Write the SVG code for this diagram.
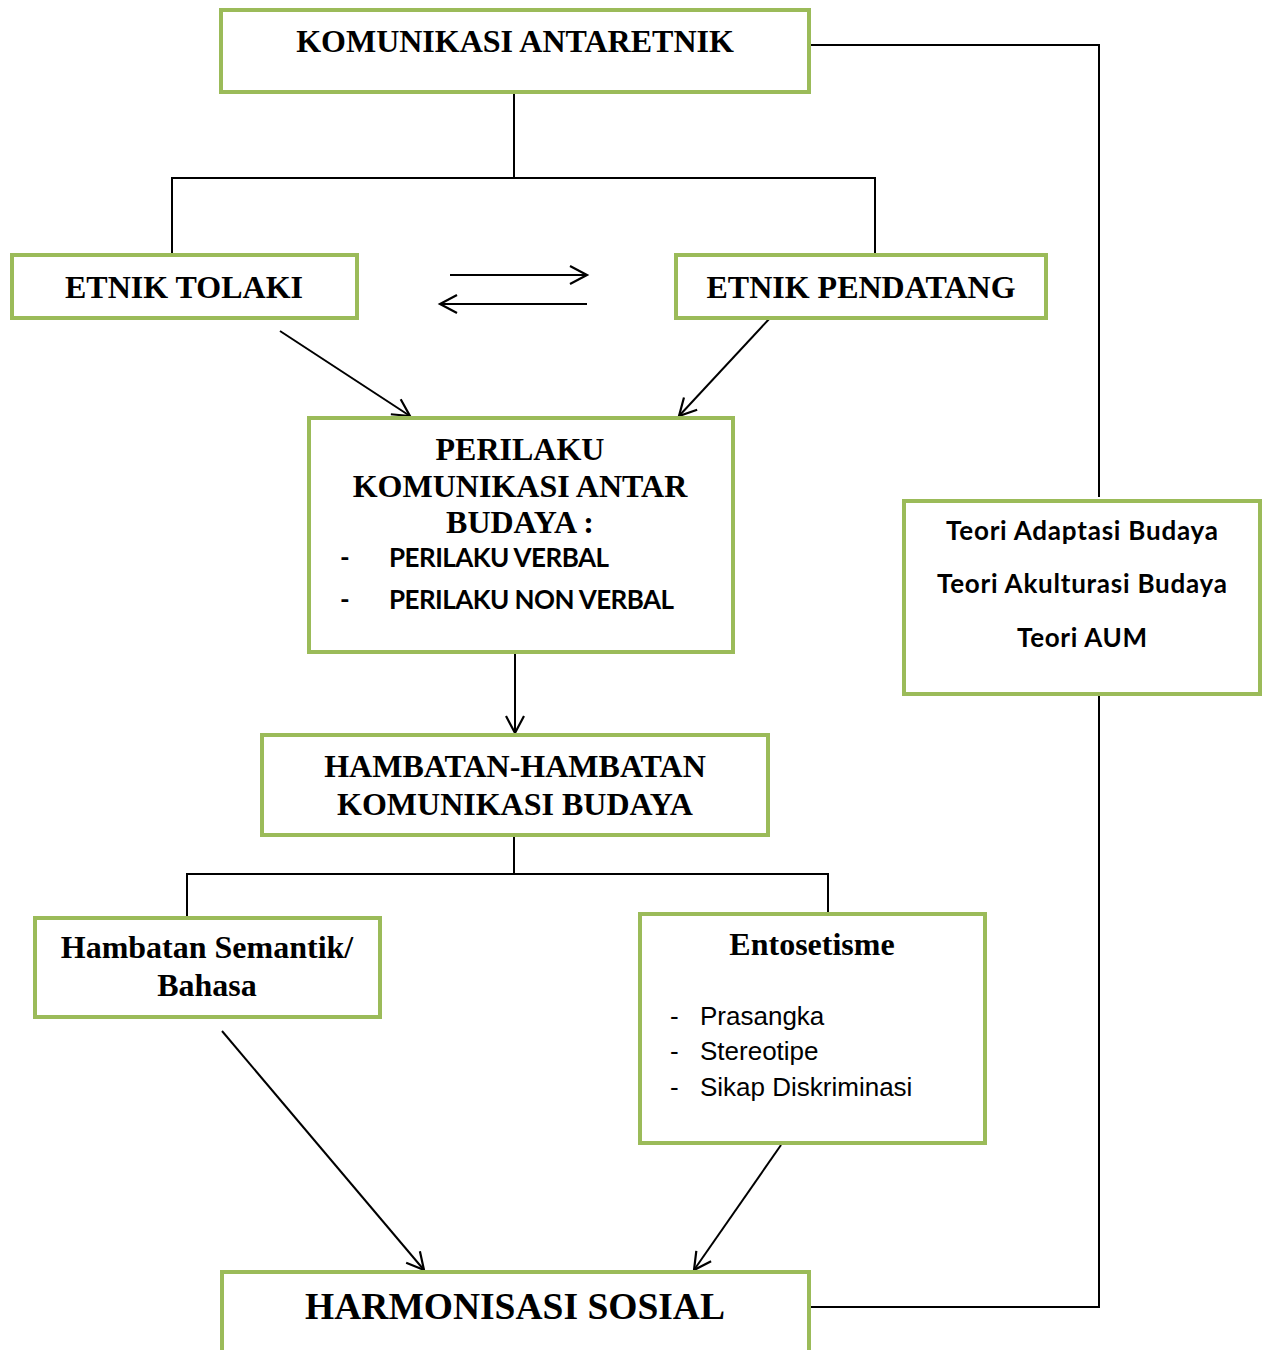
<svg xmlns="http://www.w3.org/2000/svg" width="1268" height="1350" viewBox="0 0 1268 1350">
<style>
.box{fill:#fff;stroke:#9BBB59;stroke-width:4}
.ln{fill:none;stroke:#000;stroke-width:2}
.t{font-family:"Liberation Serif","Times New Roman",serif;font-weight:bold;font-size:32px;text-anchor:middle;fill:#000}
.c{font-family:Lato,"Open Sans",sans-serif;font-weight:bold;font-size:26px;fill:#000}
.a{font-family:"Liberation Sans",Arial,sans-serif;font-size:26px;fill:#000}
</style>
<defs>
<marker id="ah" markerUnits="userSpaceOnUse" markerWidth="24" markerHeight="24" viewBox="-20 -12 24 24" refX="0" refY="0" orient="auto">
<path d="M-17,-9 L0,0 L-17,9" fill="none" stroke="#000" stroke-width="2.2"/>
</marker>
</defs>
<rect width="1268" height="1350" fill="#fff"/>
<g id="connectors">
<polyline class="ln" points="809,45 1099,45 1099,497"/>
<polyline class="ln" points="1099,694 1099,1307 809,1307"/>
<line class="ln" x1="514" y1="92" x2="514" y2="178"/>
<polyline class="ln" points="172,254 172,178 875,178 875,254"/>
<line class="ln" x1="450" y1="275" x2="587" y2="275" marker-end="url(#ah)"/>
<line class="ln" x1="587" y1="304" x2="440" y2="304" marker-end="url(#ah)"/>
<line class="ln" x1="280" y1="331" x2="410" y2="416" marker-end="url(#ah)"/>
<line class="ln" x1="770" y1="318" x2="679" y2="416" marker-end="url(#ah)"/>
<line class="ln" x1="515" y1="652" x2="515" y2="733" marker-end="url(#ah)"/>
<line class="ln" x1="514" y1="835" x2="514" y2="874"/>
<polyline class="ln" points="187,918 187,874 828,874 828,913"/>
<line class="ln" x1="222" y1="1031" x2="424" y2="1270" marker-end="url(#ah)"/>
<line class="ln" x1="781" y1="1145" x2="694" y2="1270" marker-end="url(#ah)"/>
</g>
<g id="komunikasi-antaretnik">
<rect class="box" x="221" y="10" width="588" height="82"/>
<text class="t" x="515" y="52">KOMUNIKASI ANTARETNIK</text>
</g>
<g id="etnik-tolaki">
<rect class="box" x="12" y="255" width="345" height="63"/>
<text class="t" x="184" y="298">ETNIK TOLAKI</text>
</g>
<g id="etnik-pendatang">
<rect class="box" x="676" y="255" width="370" height="63"/>
<text class="t" x="861" y="298">ETNIK PENDATANG</text>
</g>
<g id="perilaku">
<rect class="box" x="309" y="418" width="424" height="234"/>
<text class="t" x="520" y="460">PERILAKU</text>
<text class="t" x="520" y="497">KOMUNIKASI ANTAR</text>
<text class="t" x="520" y="533">BUDAYA :</text>
<text class="c" x="340" y="567">-</text>
<text class="c" x="389" y="567" textLength="220">PERILAKU VERBAL</text>
<text class="c" x="340" y="609">-</text>
<text class="c" x="389" y="609" textLength="285">PERILAKU NON VERBAL</text>
</g>
<g id="hambatan">
<rect class="box" x="262" y="735" width="506" height="100"/>
<text class="t" x="515" y="777">HAMBATAN-HAMBATAN</text>
<text class="t" x="515" y="815">KOMUNIKASI BUDAYA</text>
</g>
<g id="teori">
<rect class="box" x="904" y="501" width="356" height="193"/>
<text class="c" x="1082" y="540" text-anchor="middle" textLength="272">Teori Adaptasi Budaya</text>
<text class="c" x="1082" y="593" text-anchor="middle" textLength="290">Teori Akulturasi Budaya</text>
<text class="c" x="1082" y="647" text-anchor="middle" textLength="130">Teori AUM</text>
</g>
<g id="hambatan-semantik">
<rect class="box" x="35" y="918" width="345" height="99"/>
<text class="t" x="207" y="958">Hambatan Semantik/</text>
<text class="t" x="207" y="996">Bahasa</text>
</g>
<g id="entosetisme">
<rect class="box" x="640" y="914" width="345" height="229"/>
<text class="t" x="812" y="955">Entosetisme</text>
<text class="a" x="670" y="1025">-</text>
<text class="a" x="700" y="1025">Prasangka</text>
<text class="a" x="670" y="1060">-</text>
<text class="a" x="700" y="1060">Stereotipe</text>
<text class="a" x="670" y="1096">-</text>
<text class="a" x="700" y="1096">Sikap Diskriminasi</text>
</g>
<g id="harmonisasi">
<rect class="box" x="222" y="1272" width="587" height="100"/>
<text class="t" x="515" y="1319" style="font-size:37.5px">HARMONISASI SOSIAL</text>
</g>
</svg>
